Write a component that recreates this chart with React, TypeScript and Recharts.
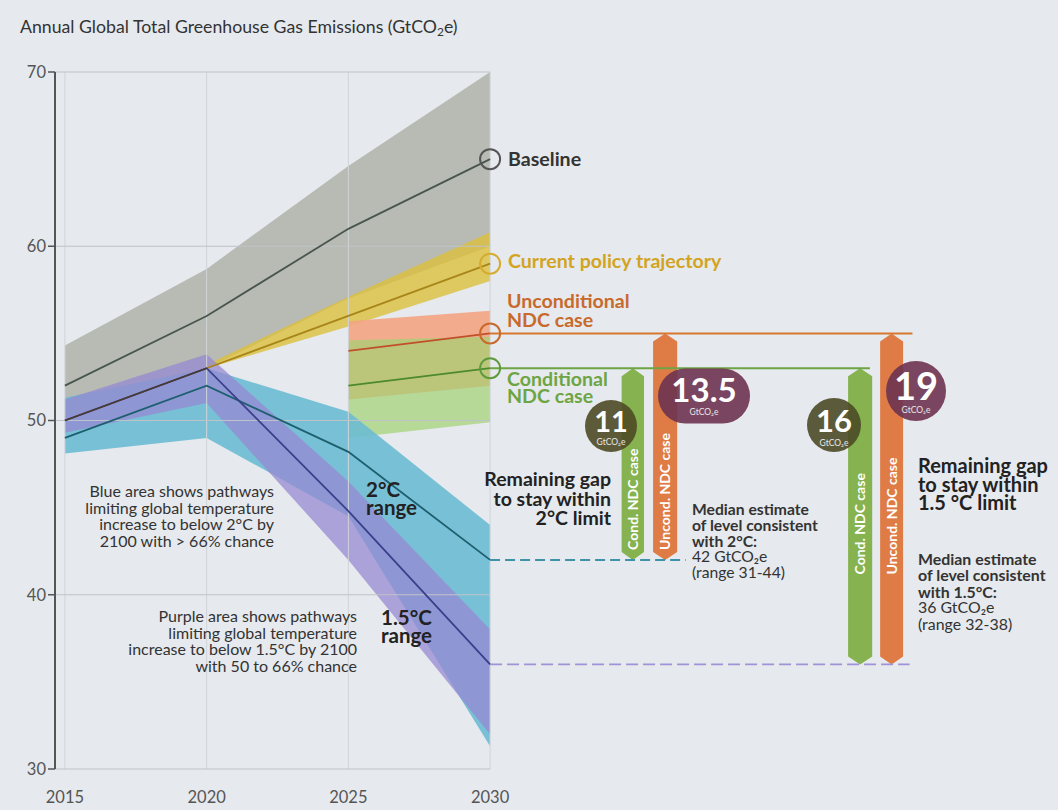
import React from "react";
import {
  ComposedChart,
  Area,
  Line,
  XAxis,
  YAxis,
  ReferenceLine,
  ReferenceArea,
  ReferenceDot,
} from "recharts";

const years = [2015, 2020, 2025, 2030];

const baselineLow = [50, 53, 57, 60];
const baselineHigh = [54.3, 58.7, 64.6, 70];
const baselineMid = [52, 56, 61, 65];

const policyLow = [null, 53, 55.4, 58];
const policyHigh = [null, 53.2, 57.1, 60.8];
const policyMid = [null, 53, 56, 59];
const historyMid = [50, 53, null, null];

const uncondLow = [null, null, 51.2, 52];
const uncondHigh = [null, null, 55.7, 56.3];
const uncondMid = [null, null, 54, 55];

const condLow = [null, null, 49, 49.9];
const condHigh = [null, null, 54.6, 54.8];
const condMid = [null, null, 52, 53];

const twoLow = [48.1, 49, 44.5, 31.3];
const twoHigh = [51.3, 53, 50.5, 44];
const twoMid = [49, 52, 48.2, 42];

const onefiveLow = [49.3, 51, 42, 32];
const onefiveHigh = [51.2, 53.8, 46.5, 38];
const onefiveMid = [50, 53, 44.8, 36];

const yTicks = [30, 40, 50, 60, 70];
const xTicks = [2015, 2020, 2025, 2030];
const gapValues = ["11", "13.5", "16", "19"];

const range = (lo: (number | null)[], hi: (number | null)[], i: number) =>
  lo[i] == null ? null : [lo[i], hi[i]];

const data = years.map((year, i) => ({
  year,
  baseline: range(baselineLow, baselineHigh, i),
  policy: range(policyLow, policyHigh, i),
  uncond: range(uncondLow, uncondHigh, i),
  cond: range(condLow, condHigh, i),
  two: range(twoLow, twoHigh, i),
  onefive: range(onefiveLow, onefiveHigh, i),
  baselineMid: baselineMid[i],
  policyMid: policyMid[i],
  historyMid: historyMid[i],
  uncondMid: uncondMid[i],
  condMid: condMid[i],
  twoMid: twoMid[i],
  onefiveMid: onefiveMid[i],
}));

const last = years.length - 1;
const twoTarget = twoMid[last];
const onefiveTarget = onefiveMid[last];
const uncond2030 = uncondMid[last] as number;
const cond2030 = condMid[last] as number;

const xMin = 2014.65;
const xMax = 2050;

const GREEN = "#86b34f";
const ORANGE = "#df7c46";

const gapBars = [
  { x1: 2034.64, x2: 2035.43, y1: twoTarget, y2: cond2030, fill: GREEN, text: "Cond. NDC case", lift: 10 },
  { x1: 2035.75, x2: 2036.6, y1: twoTarget, y2: uncond2030, fill: ORANGE, text: "Uncond. NDC case", lift: 10 },
  { x1: 2042.63, x2: 2043.48, y1: onefiveTarget, y2: cond2030, fill: GREEN, text: "Cond. NDC case", lift: 90 },
  { x1: 2043.76, x2: 2044.57, y1: onefiveTarget, y2: uncond2030, fill: ORANGE, text: "Uncond. NDC case", lift: 90 },
];

const GapArrow = (props: any) => {
  const { x, y, width, height, fill, text, lift } = props;
  const tip = 8;
  const cx = x + width / 2;
  const pts = [
    [x, y + tip],
    [cx, y],
    [x + width, y + tip],
    [x + width, y + height - tip],
    [cx, y + height],
    [x, y + height - tip],
  ]
    .map((p) => p.join(","))
    .join(" ");
  return (
    <g>
      <polygon points={pts} fill={fill} />
      <text
        transform={`translate(${cx + 5},${y + height - lift}) rotate(-90)`}
        fill="#fff"
        fontSize={14}
        fontWeight={700}
      >
        {text}
      </text>
    </g>
  );
};

const bubbles = [
  { label: gapValues[0], cx: 611, cy: 426, w: 52, h: 52, size: 29, fill: "#4e4a25", base: 432, sub: 445 },
  { label: gapValues[1], cx: 704, cy: 396, w: 92, h: 55, size: 33, fill: "#6d3350", base: 402, sub: 415 },
  { label: gapValues[2], cx: 834, cy: 425, w: 54, h: 54, size: 31, fill: "#4b4a26", base: 432, sub: 446 },
  { label: gapValues[3], cx: 916, cy: 391, w: 60, h: 60, size: 38, fill: "#6d3350", base: 400, sub: 413 },
];

const Lines = ({ x, y, lines, anchor = "start", size, weight = 400, color = "#333", gap }: any) => (
  <text x={x} y={y} textAnchor={anchor} fontSize={size} fontWeight={weight} fill={color}>
    {lines.map((l: string, i: number) => (
      <tspan key={i} x={x} dy={i === 0 ? 0 : gap}>
        {l}
      </tspan>
    ))}
  </text>
);

const Overlay = () => (
  <svg
    width={1058}
    height={810}
    style={{ position: "absolute", left: 0, top: 0, pointerEvents: "none" }}
  >
    <text x={20} y={33} fontSize={17.7} fill="#333">
      Annual Global Total Greenhouse Gas Emissions (GtCO
      <tspan fontSize={12} dy={3}>2</tspan>
      <tspan dy={-3}>e)</tspan>
    </text>

    <Lines x={508} y={166} lines={["Baseline"]} size={19.6} weight={700} color="#333" />
    <Lines x={508} y={268} lines={["Current policy trajectory"]} size={19.6} weight={700} color="#d2a421" />
    <Lines x={507} y={308} lines={["Unconditional", "NDC case"]} size={19.6} weight={700} color="#c86a2c" gap={19} />
    <Lines x={507} y={386} lines={["Conditional", "NDC case"]} size={19.6} weight={700} color="#6ea544" gap={17} />

    <Lines
      x={274}
      y={497}
      anchor="end"
      size={16}
      gap={16.7}
      lines={[
        "Blue area shows pathways",
        "limiting global temperature",
        "increase to below 2°C by",
        "2100 with > 66% chance",
      ]}
    />
    <Lines
      x={357}
      y={622}
      anchor="end"
      size={16}
      gap={16.7}
      lines={[
        "Purple area shows pathways",
        "limiting global temperature",
        "increase to below 1.5°C by 2100",
        "with 50 to 66% chance",
      ]}
    />

    <Lines x={366} y={497} lines={["2°C", "range"]} size={20.5} weight={700} color="#222" gap={18} />
    <Lines x={381} y={625} lines={["1.5°C", "range"]} size={20.5} weight={700} color="#222" gap={18} />

    <Lines
      x={611}
      y={486}
      anchor="end"
      lines={["Remaining gap", "to stay within", "2°C limit"]}
      size={19.5}
      weight={700}
      color="#222"
      gap={19.5}
    />
    <Lines
      x={692}
      y={515}
      lines={["Median estimate", "of level consistent", "with 2°C:"]}
      size={15.7}
      weight={700}
      color="#333"
      gap={16}
    />
    <Lines x={692} y={562} lines={["42 GtCO₂e", "(range 31-44)"]} size={15.7} color="#333" gap={15.5} />

    <Lines
      x={918}
      y={473}
      lines={["Remaining gap", "to stay within", "1.5 °C limit"]}
      size={20}
      weight={700}
      color="#222"
      gap={18.5}
    />
    <Lines
      x={918}
      y={565}
      lines={["Median estimate", "of level consistent", "with 1.5°C:"]}
      size={15.9}
      weight={700}
      color="#333"
      gap={16.3}
    />
    <Lines x={918} y={613} lines={["36 GtCO₂e", "(range 32-38)"]} size={15.9} color="#333" gap={17} />

    {bubbles.map((b) => (
      <g key={b.label}>
        <rect
          x={b.cx - b.w / 2}
          y={b.cy - b.h / 2}
          width={b.w}
          height={b.h}
          rx={b.h / 2}
          fill={b.fill}
          fillOpacity={0.9}
        />
        <text x={b.cx} y={b.base} textAnchor="middle" fontSize={b.size} fontWeight={700} fill="#fff">
          {b.label}
        </text>
        <text x={b.cx} y={b.sub} textAnchor="middle" fontSize={8.5} fill="#e8e8e8">
          GtCO₂e
        </text>
      </g>
    ))}
  </svg>
);

export default function App() {
  return (
    <div
      style={{
        position: "absolute",
        left: 0,
        top: 0,
        width: 1058,
        height: 810,
        background: "#e6e9ed",
        fontFamily: "Lato, 'Open Sans', sans-serif",
      }}
    >
      <ComposedChart
        width={1058}
        height={810}
        data={data}
        margin={{ top: 72, right: 1, bottom: 11, left: 0 }}
      >
        <XAxis
          dataKey="year"
          type="number"
          domain={[xMin, xMax]}
          ticks={xTicks}
          axisLine={false}
          tickLine={false}
          tickSize={6}
          tickMargin={16}
          height={30}
          tick={{ fill: "#555", fontSize: 16.5 }}
        />
        <YAxis
          domain={[30, 70]}
          ticks={yTicks}
          width={55}
          axisLine={{ stroke: "#555", strokeWidth: 2 }}
          tickLine={{ stroke: "#555", strokeWidth: 1.5 }}
          tickSize={7}
          tickMargin={2}
          tick={{ fill: "#555", fontSize: 16.5 }}
        />

        {xTicks.map((t) => (
          <ReferenceLine key={"v" + t} x={t} stroke="#d0d4d9" strokeWidth={1} />
        ))}
        {yTicks.map((t) => (
          <ReferenceLine
            key={"h" + t}
            segment={[
              { x: xMin, y: t },
              { x: 2030, y: t },
            ]}
            stroke="#bfc3c9"
            strokeWidth={1.2}
          />
        ))}

        <Area dataKey="baseline" type="linear" stroke="none" fill="#b3b6ae" fillOpacity={0.92} isAnimationActive={false} activeDot={false} />
        <Area dataKey="policy" type="linear" stroke="none" fill="#dcbf3c" fillOpacity={0.8} isAnimationActive={false} activeDot={false} />
        <Area dataKey="uncond" type="linear" stroke="none" fill="#f4a483" fillOpacity={0.9} isAnimationActive={false} activeDot={false} />
        <Area dataKey="cond" type="linear" stroke="none" fill="#a2d274" fillOpacity={0.7} isAnimationActive={false} activeDot={false} />
        <Area dataKey="two" type="linear" stroke="none" fill="#6bbbd2" fillOpacity={0.9} isAnimationActive={false} activeDot={false} />
        <Area dataKey="onefive" type="linear" stroke="none" fill="#958ad2" fillOpacity={0.75} isAnimationActive={false} activeDot={false} />

        <Line dataKey="baselineMid" type="linear" stroke="#4a5550" strokeWidth={1.8} dot={false} activeDot={false} isAnimationActive={false} />
        <Line dataKey="policyMid" type="linear" stroke="#a88518" strokeWidth={1.8} dot={false} activeDot={false} isAnimationActive={false} />
        <Line dataKey="uncondMid" type="linear" stroke="#c0502a" strokeWidth={1.8} dot={false} activeDot={false} isAnimationActive={false} />
        <Line dataKey="condMid" type="linear" stroke="#4d8a2e" strokeWidth={1.8} dot={false} activeDot={false} isAnimationActive={false} />
        <Line dataKey="twoMid" type="linear" stroke="#1d5f6e" strokeWidth={1.8} dot={false} activeDot={false} isAnimationActive={false} />
        <Line dataKey="onefiveMid" type="linear" stroke="#3b3f8c" strokeWidth={1.8} dot={false} activeDot={false} isAnimationActive={false} />
        <Line dataKey="historyMid" type="linear" stroke="#4a3b30" strokeWidth={1.8} dot={false} activeDot={false} isAnimationActive={false} />

        <ReferenceLine
          segment={[
            { x: 2030, y: cond2030 },
            { x: 2043.4, y: cond2030 },
          ]}
          stroke="#6ea544"
          strokeWidth={2}
        />
        <ReferenceLine
          segment={[
            { x: 2030, y: uncond2030 },
            { x: 2044.9, y: uncond2030 },
          ]}
          stroke="#d8782f"
          strokeWidth={2}
        />
        <ReferenceLine
          segment={[
            { x: 2030, y: twoTarget },
            { x: 2036.9, y: twoTarget },
          ]}
          stroke="#3d93a8"
          strokeWidth={2}
          strokeDasharray="10 5"
        />
        <ReferenceLine
          segment={[
            { x: 2030, y: onefiveTarget },
            { x: 2044.8, y: onefiveTarget },
          ]}
          stroke="#9f92d8"
          strokeWidth={1.8}
          strokeDasharray="12 5"
        />

        {gapBars.map((b, i) => (
          <ReferenceArea
            key={"gap" + i}
            x1={b.x1}
            x2={b.x2}
            y1={b.y1}
            y2={b.y2}
            shape={(p: any) => <GapArrow {...p} fill={b.fill} text={b.text} lift={b.lift} />}
          />
        ))}

        <ReferenceDot x={2030} y={baselineMid[last]} r={10} fill="none" stroke="#555" strokeWidth={2} />
        <ReferenceDot x={2030} y={policyMid[last] as number} r={10} fill="none" stroke="#d6ac30" strokeWidth={2} />
        <ReferenceDot x={2030} y={uncond2030} r={10} fill="none" stroke="#c86a2c" strokeWidth={2} />
        <ReferenceDot x={2030} y={cond2030} r={10} fill="none" stroke="#5d9a3c" strokeWidth={2} />
      </ComposedChart>
      <Overlay />
    </div>
  );
}
